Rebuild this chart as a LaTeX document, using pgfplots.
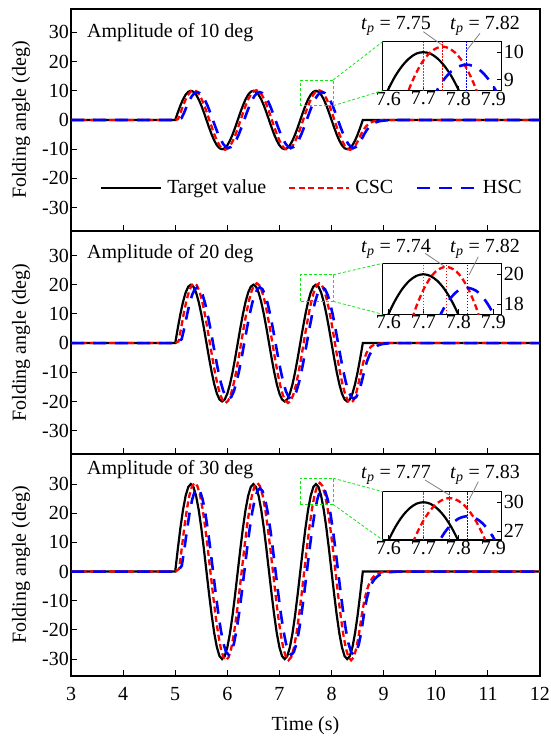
\documentclass[border=0pt]{standalone}
\usepackage{fontspec}
\setmainfont{Liberation Serif}
\usepackage{pgfplots}
\pgfplotsset{compat=1.18}
\definecolor{gbox}{RGB}{20,230,20}
\tikzset{
  tgt/.style={black, line width=2.2pt, solid},
  csc/.style={red, line width=2.3pt, dash pattern=on 6pt off 3.5pt},
  hsc/.style={blue, line width=2.6pt, dash pattern=on 13pt off 9pt},
}
\pgfplotsset{
  mainax/.style={
    scale only axis, width=469pt, anchor=south west,
    xmin=3, xmax=12, xtick={3,...,12},
    ytick={-30,-20,...,30},
    xtick pos=bottom, ytick pos=left, tick align=inside,
    major tick length=6pt, tick style={line width=0.9pt, black},
    axis line style={line width=1.1pt},
    ylabel={Folding angle (deg)},
    ylabel style={at={(axis description cs:-0.1066,0.5)}, anchor=center},
    /pgf/number format/assume math mode=true,
    yticklabel style={inner sep=2pt},
    xticklabel style={inner sep=2pt, yshift=-9pt},
  },
  insetax/.style={
    scale only axis, width=119pt, anchor=south west,
    xmin=7.584, xmax=7.924, xtick={7.6,7.7,7.8,7.9},
    xtick pos=bottom, ytick pos=right, yticklabel pos=right, tick align=inside,
    major tick length=5pt, tick style={line width=0.9pt, black},
    axis line style={line width=1.1pt},
    /pgf/number format/assume math mode=true,
    /pgf/number format/fixed,
    yticklabel style={inner sep=2pt},
    xticklabel style={inner sep=1pt},
  },
}
\begin{document}
\fontsize{20}{24}\selectfont
\begin{tikzpicture}
\useasboundingbox (0,0) rectangle (550pt,736pt);

% ---------------- Panel 1 ----------------
\begin{axis}[mainax, name=p1, at={(71pt,505pt)}, height=222pt, ymin=-38, ymax=38,
  xticklabels={},
  legend entries={Target value, CSC, HSC},
  legend image code/.code={\draw[#1] (0pt,0pt) -- (60pt,0pt);},
  legend style={draw=none, fill=none, at={(axis description cs:0.0618,0.1937)}, anchor=west,
    legend columns=3, inner sep=0pt, nodes={inner sep=0pt},
    /tikz/every odd column/.append style={column sep=5pt},
    /tikz/every even column/.append style={column sep=22pt}},
]
\addplot[tgt] coordinates {(3,0) (5,0) (5.05,2.59) (5.1,5) (5.15,7.07) (5.2,8.66) (5.25,9.66) (5.3,10) (5.35,9.66) (5.4,8.66) (5.45,7.07) (5.5,5) (5.55,2.59) (5.6,0) (5.65,-2.59) (5.7,-5) (5.75,-7.07) (5.8,-8.66) (5.85,-9.66) (5.9,-10) (5.95,-9.66) (6,-8.66) (6.05,-7.07) (6.1,-5) (6.15,-2.59) (6.2,0) (6.25,2.59) (6.3,5) (6.35,7.07) (6.4,8.66) (6.45,9.66) (6.5,10) (6.55,9.66) (6.6,8.66) (6.65,7.07) (6.7,5) (6.75,2.59) (6.8,0) (6.85,-2.59) (6.9,-5) (6.95,-7.07) (7,-8.66) (7.05,-9.66) (7.1,-10) (7.15,-9.66) (7.2,-8.66) (7.25,-7.07) (7.3,-5) (7.35,-2.59) (7.4,0) (7.45,2.59) (7.5,5) (7.55,7.07) (7.6,8.66) (7.65,9.66) (7.7,10) (7.75,9.66) (7.8,8.66) (7.85,7.07) (7.9,5) (7.95,2.59) (8,0) (8.05,-2.59) (8.1,-5) (8.15,-7.07) (8.2,-8.66) (8.25,-9.66) (8.3,-10) (8.35,-9.66) (8.4,-8.66) (8.45,-7.07) (8.5,-5) (8.55,-2.59) (8.6,0) (12,0)};
\addplot[csc] coordinates {(3,0) (5,0) (5.055,0.3) (5.105,2.64) (5.155,5.1) (5.205,7.21) (5.255,8.83) (5.305,9.85) (5.355,10.2) (5.405,9.85) (5.455,8.83) (5.505,7.21) (5.555,5.1) (5.605,2.64) (5.655,0) (5.705,-2.64) (5.755,-5.1) (5.805,-7.21) (5.855,-8.83) (5.905,-9.85) (5.955,-10.2) (6.005,-9.85) (6.055,-8.83) (6.105,-7.21) (6.155,-5.1) (6.205,-2.64) (6.255,0) (6.305,2.64) (6.355,5.1) (6.405,7.21) (6.455,8.83) (6.505,9.85) (6.555,10.2) (6.605,9.85) (6.655,8.83) (6.705,7.21) (6.755,5.1) (6.805,2.64) (6.855,0) (6.905,-2.64) (6.955,-5.1) (7.005,-7.21) (7.055,-8.83) (7.105,-9.85) (7.155,-10.2) (7.205,-9.85) (7.255,-8.83) (7.305,-7.21) (7.355,-5.1) (7.405,-2.64) (7.455,0) (7.505,2.64) (7.555,5.1) (7.605,7.21) (7.655,8.83) (7.705,9.85) (7.755,10.2) (7.805,9.85) (7.855,8.83) (7.905,7.21) (7.955,5.1) (8.005,2.64) (8.055,0) (8.105,-2.64) (8.155,-5.1) (8.205,-7.21) (8.255,-8.83) (8.305,-9.85) (8.355,-10.2) (8.405,-9.85) (8.455,-8.83) (8.505,-7.21) (8.555,-5.3) (8.605,-3.6) (8.655,-2.3) (8.705,-1.4) (8.755,-0.85) (8.805,-0.5) (8.855,-0.28) (8.905,-0.14) (9,-0.04) (9.1,0) (12,0)};
\addplot[hsc] coordinates {(3,0) (5,0) (5.06,0.15) (5.123,0.7) (5.173,2.6) (5.223,4.78) (5.273,6.75) (5.323,8.27) (5.373,9.22) (5.423,9.55) (5.473,9.22) (5.523,8.27) (5.573,6.75) (5.623,4.78) (5.673,2.47) (5.723,0) (5.773,-2.47) (5.823,-4.78) (5.873,-6.75) (5.923,-8.27) (5.973,-9.22) (6.023,-9.55) (6.073,-9.22) (6.123,-8.27) (6.173,-6.75) (6.223,-4.78) (6.273,-2.47) (6.323,0) (6.373,2.47) (6.423,4.78) (6.473,6.75) (6.523,8.27) (6.573,9.22) (6.623,9.55) (6.673,9.22) (6.723,8.27) (6.773,6.75) (6.823,4.78) (6.873,2.47) (6.923,0) (6.973,-2.47) (7.023,-4.78) (7.073,-6.75) (7.123,-8.27) (7.173,-9.22) (7.223,-9.55) (7.273,-9.22) (7.323,-8.27) (7.373,-6.75) (7.423,-4.78) (7.473,-2.47) (7.523,0) (7.573,2.47) (7.623,4.78) (7.673,6.75) (7.723,8.27) (7.773,9.22) (7.823,9.55) (7.873,9.22) (7.923,8.27) (7.973,6.75) (8.023,4.78) (8.073,2.47) (8.123,0) (8.173,-2.47) (8.223,-4.78) (8.273,-6.75) (8.323,-8.27) (8.373,-9.22) (8.423,-9.55) (8.473,-9.22) (8.523,-8.27) (8.573,-6.75) (8.623,-5) (8.673,-3.5) (8.723,-2.35) (8.773,-1.55) (8.823,-1) (8.873,-0.65) (8.923,-0.4) (9,-0.2) (9.1,-0.07) (9.2,0) (12,0)};
\draw[gbox, line width=0.8pt, dash pattern=on 3pt off 2pt] (axis cs:7.4,4.9) rectangle (axis cs:8.03,13.7);
\coordinate (b1ne) at (axis cs:8.03,13.7);
\coordinate (b1se) at (axis cs:8.03,4.9);
\end{axis}

% ---------------- Panel 2 ----------------
\begin{axis}[mainax, name=p2, at={(71pt,282pt)}, height=223pt, ymin=-38, ymax=38.4,
  xticklabels={}]
\addplot[tgt] coordinates {(3,0) (5,0) (5.05,5.18) (5.1,10) (5.15,14.14) (5.2,17.32) (5.25,19.32) (5.3,20) (5.35,19.32) (5.4,17.32) (5.45,14.14) (5.5,10) (5.55,5.18) (5.6,0) (5.65,-5.18) (5.7,-10) (5.75,-14.14) (5.8,-17.32) (5.85,-19.32) (5.9,-20) (5.95,-19.32) (6,-17.32) (6.05,-14.14) (6.1,-10) (6.15,-5.18) (6.2,0) (6.25,5.18) (6.3,10) (6.35,14.14) (6.4,17.32) (6.45,19.32) (6.5,20) (6.55,19.32) (6.6,17.32) (6.65,14.14) (6.7,10) (6.75,5.18) (6.8,0) (6.85,-5.18) (6.9,-10) (6.95,-14.14) (7,-17.32) (7.05,-19.32) (7.1,-20) (7.15,-19.32) (7.2,-17.32) (7.25,-14.14) (7.3,-10) (7.35,-5.18) (7.4,0) (7.45,5.18) (7.5,10) (7.55,14.14) (7.6,17.32) (7.65,19.32) (7.7,20) (7.75,19.32) (7.8,17.32) (7.85,14.14) (7.9,10) (7.95,5.18) (8,0) (8.05,-5.18) (8.1,-10) (8.15,-14.14) (8.2,-17.32) (8.25,-19.32) (8.3,-20) (8.35,-19.32) (8.4,-17.32) (8.45,-14.14) (8.5,-10) (8.55,-5.18) (8.6,0) (12,0)};
\addplot[csc] coordinates {(3,0) (5,0) (5.065,0.6) (5.115,5.31) (5.165,10.25) (5.215,14.5) (5.265,17.75) (5.315,19.8) (5.365,20.5) (5.415,19.8) (5.465,17.75) (5.515,14.5) (5.565,10.25) (5.615,5.31) (5.665,0) (5.715,-5.31) (5.765,-10.25) (5.815,-14.5) (5.865,-17.75) (5.915,-19.8) (5.965,-20.5) (6.015,-19.8) (6.065,-17.75) (6.115,-14.5) (6.165,-10.25) (6.215,-5.31) (6.265,0) (6.315,5.31) (6.365,10.25) (6.415,14.5) (6.465,17.75) (6.515,19.8) (6.565,20.5) (6.615,19.8) (6.665,17.75) (6.715,14.5) (6.765,10.25) (6.815,5.31) (6.865,0) (6.915,-5.31) (6.965,-10.25) (7.015,-14.5) (7.065,-17.75) (7.115,-19.8) (7.165,-20.5) (7.215,-19.8) (7.265,-17.75) (7.315,-14.5) (7.365,-10.25) (7.415,-5.31) (7.465,0) (7.515,5.31) (7.565,10.25) (7.615,14.5) (7.665,17.75) (7.715,19.8) (7.765,20.5) (7.815,19.8) (7.865,17.75) (7.915,14.5) (7.965,10.25) (8.015,5.31) (8.065,0) (8.115,-5.31) (8.165,-10.25) (8.215,-14.5) (8.265,-17.75) (8.315,-19.8) (8.365,-20.5) (8.415,-19.8) (8.465,-17.75) (8.515,-14) (8.565,-9.8) (8.615,-6.2) (8.665,-3.6) (8.715,-2) (8.765,-1.1) (8.815,-0.6) (8.865,-0.3) (8.95,-0.1) (9.05,0) (12,0)};
\addplot[hsc] coordinates {(3,0) (5,0) (5.06,0.3) (5.125,1.4) (5.175,5.2) (5.225,9.55) (5.275,13.51) (5.325,16.54) (5.375,18.45) (5.425,19.1) (5.475,18.45) (5.525,16.54) (5.575,13.51) (5.625,9.55) (5.675,4.94) (5.725,0) (5.775,-4.94) (5.825,-9.55) (5.875,-13.51) (5.925,-16.54) (5.975,-18.45) (6.025,-19.1) (6.075,-18.45) (6.125,-16.54) (6.175,-13.51) (6.225,-9.55) (6.275,-4.94) (6.325,0) (6.375,4.94) (6.425,9.55) (6.475,13.51) (6.525,16.54) (6.575,18.45) (6.625,19.1) (6.675,18.45) (6.725,16.54) (6.775,13.51) (6.825,9.55) (6.875,4.94) (6.925,0) (6.975,-4.94) (7.025,-9.55) (7.075,-13.51) (7.125,-16.54) (7.175,-18.45) (7.225,-19.1) (7.275,-18.45) (7.325,-16.54) (7.375,-13.51) (7.425,-9.55) (7.475,-4.94) (7.525,0) (7.575,4.94) (7.625,9.55) (7.675,13.51) (7.725,16.54) (7.775,18.45) (7.825,19.1) (7.875,18.45) (7.925,16.54) (7.975,13.51) (8.025,9.55) (8.075,4.94) (8.125,0) (8.175,-4.94) (8.225,-9.55) (8.275,-13.51) (8.325,-16.54) (8.375,-18.45) (8.425,-19.1) (8.475,-18.45) (8.525,-16.54) (8.575,-13.51) (8.625,-9.8) (8.675,-6.5) (8.725,-4.2) (8.775,-2.6) (8.825,-1.6) (8.875,-0.95) (8.925,-0.55) (9,-0.25) (9.1,-0.08) (9.2,0) (12,0)};
\draw[gbox, line width=0.8pt, dash pattern=on 3pt off 2pt] (axis cs:7.4,14.3) rectangle (axis cs:8.03,23.4);
\coordinate (b2ne) at (axis cs:8.03,23.4);
\coordinate (b2se) at (axis cs:8.03,14.3);
\end{axis}

% ---------------- Panel 3 ----------------
\begin{axis}[mainax, name=p3, at={(71pt,60pt)}, height=222pt, ymin=-35.8, ymax=40.3,
  xlabel={Time (s)},
  xlabel style={at={(axis description cs:0.5,-0.224)}, anchor=center}]
\addplot[tgt] coordinates {(3,0) (5,0) (5.05,7.76) (5.1,15) (5.15,21.21) (5.2,25.98) (5.25,28.98) (5.3,30) (5.35,28.98) (5.4,25.98) (5.45,21.21) (5.5,15) (5.55,7.76) (5.6,0) (5.65,-7.76) (5.7,-15) (5.75,-21.21) (5.8,-25.98) (5.85,-28.98) (5.9,-30) (5.95,-28.98) (6,-25.98) (6.05,-21.21) (6.1,-15) (6.15,-7.76) (6.2,0) (6.25,7.76) (6.3,15) (6.35,21.21) (6.4,25.98) (6.45,28.98) (6.5,30) (6.55,28.98) (6.6,25.98) (6.65,21.21) (6.7,15) (6.75,7.76) (6.8,0) (6.85,-7.76) (6.9,-15) (6.95,-21.21) (7,-25.98) (7.05,-28.98) (7.1,-30) (7.15,-28.98) (7.2,-25.98) (7.25,-21.21) (7.3,-15) (7.35,-7.76) (7.4,0) (7.45,7.76) (7.5,15) (7.55,21.21) (7.6,25.98) (7.65,28.98) (7.7,30) (7.75,28.98) (7.8,25.98) (7.85,21.21) (7.9,15) (7.95,7.76) (8,0) (8.05,-7.76) (8.1,-15) (8.15,-21.21) (8.2,-25.98) (8.25,-28.98) (8.3,-30) (8.35,-28.98) (8.4,-25.98) (8.45,-21.21) (8.5,-15) (8.55,-7.76) (8.6,0) (12,0)};
\addplot[csc] coordinates {(3,0) (5,0) (5.075,0.9) (5.125,7.87) (5.175,15.2) (5.225,21.5) (5.275,26.33) (5.325,29.36) (5.375,30.4) (5.425,29.36) (5.475,26.33) (5.525,21.5) (5.575,15.2) (5.625,7.87) (5.675,0) (5.725,-7.87) (5.775,-15.2) (5.825,-21.5) (5.875,-26.33) (5.925,-29.36) (5.975,-30.4) (6.025,-29.36) (6.075,-26.33) (6.125,-21.5) (6.175,-15.2) (6.225,-7.87) (6.275,0) (6.325,7.87) (6.375,15.2) (6.425,21.5) (6.475,26.33) (6.525,29.36) (6.575,30.4) (6.625,29.36) (6.675,26.33) (6.725,21.5) (6.775,15.2) (6.825,7.87) (6.875,0) (6.925,-7.87) (6.975,-15.2) (7.025,-21.5) (7.075,-26.33) (7.125,-29.36) (7.175,-30.4) (7.225,-29.36) (7.275,-26.33) (7.325,-21.5) (7.375,-15.2) (7.425,-7.87) (7.475,0) (7.525,7.87) (7.575,15.2) (7.625,21.5) (7.675,26.33) (7.725,29.36) (7.775,30.4) (7.825,29.36) (7.875,26.33) (7.925,21.5) (7.975,15.2) (8.025,7.87) (8.075,0) (8.125,-7.87) (8.175,-15.2) (8.225,-21.5) (8.275,-26.33) (8.325,-29.36) (8.375,-30.4) (8.425,-29.36) (8.475,-26.33) (8.525,-21.5) (8.575,-15.5) (8.625,-10.3) (8.675,-6.5) (8.725,-4) (8.775,-2.4) (8.825,-1.4) (8.875,-0.8) (8.925,-0.4) (9,-0.15) (9.1,0) (12,0)};
\addplot[hsc] coordinates {(3,0) (5,0) (5.06,0.4) (5.126,2) (5.176,7.7) (5.226,14.28) (5.276,20.19) (5.326,24.72) (5.376,27.58) (5.426,28.55) (5.476,27.58) (5.526,24.72) (5.576,20.19) (5.626,14.28) (5.676,7.39) (5.726,0) (5.776,-7.39) (5.826,-14.28) (5.876,-20.19) (5.926,-24.72) (5.976,-27.58) (6.026,-28.55) (6.076,-27.58) (6.126,-24.72) (6.176,-20.19) (6.226,-14.28) (6.276,-7.39) (6.326,0) (6.376,7.39) (6.426,14.28) (6.476,20.19) (6.526,24.72) (6.576,27.58) (6.626,28.55) (6.676,27.58) (6.726,24.72) (6.776,20.19) (6.826,14.28) (6.876,7.39) (6.926,0) (6.976,-7.39) (7.026,-14.28) (7.076,-20.19) (7.126,-24.72) (7.176,-27.58) (7.226,-28.55) (7.276,-27.58) (7.326,-24.72) (7.376,-20.19) (7.426,-14.28) (7.476,-7.39) (7.526,0) (7.576,7.39) (7.626,14.28) (7.676,20.19) (7.726,24.72) (7.776,27.58) (7.826,28.55) (7.876,27.58) (7.926,24.72) (7.976,20.19) (8.026,14.28) (8.076,7.39) (8.126,0) (8.176,-7.39) (8.226,-14.28) (8.276,-20.19) (8.326,-24.72) (8.376,-27.58) (8.426,-28.55) (8.476,-27.58) (8.526,-24.72) (8.576,-20.19) (8.626,-14) (8.676,-9.3) (8.726,-6) (8.776,-3.9) (8.826,-2.6) (8.876,-1.7) (8.926,-1.1) (9,-0.6) (9.1,-0.25) (9.2,-0.08) (9.3,0) (12,0)};
\draw[gbox, line width=0.8pt, dash pattern=on 3pt off 2pt] (axis cs:7.4,23) rectangle (axis cs:8.03,32);
\coordinate (b3ne) at (axis cs:8.03,32);
\coordinate (b3se) at (axis cs:8.03,23);
\end{axis}

% ---------------- Inset 1 ----------------
\begin{axis}[insetax, name=i1, at={(382.7pt,645.3pt)}, height=49pt, ymin=8.61, ymax=10.38, ytick={9,10}]
\draw[black!60, line width=0.8pt, dash pattern=on 1.5pt off 1.5pt] (axis cs:7.7,8.61) -- (axis cs:7.7,10.38);
\draw[red, line width=0.8pt, dash pattern=on 1.5pt off 1.5pt] (axis cs:7.755,8.61) -- (axis cs:7.755,10.38);
\draw[blue, line width=0.8pt, dash pattern=on 1.5pt off 1.5pt] (axis cs:7.823,8.61) -- (axis cs:7.823,10.38);
\addplot[tgt, smooth] coordinates {(7.58,8.09) (7.6,8.66) (7.62,9.14) (7.64,9.51) (7.66,9.78) (7.68,9.95) (7.7,10) (7.72,9.95) (7.74,9.78) (7.76,9.51) (7.78,9.14) (7.8,8.66) (7.82,8.09)};
\addplot[csc, smooth] coordinates {(7.64,7.99) (7.66,8.69) (7.68,9.26) (7.70,9.70) (7.72,9.995) (7.74,10.16) (7.755,10.2) (7.77,10.16) (7.79,9.995) (7.81,9.70) (7.83,9.26) (7.85,8.69) (7.87,7.99)};
\addplot[hsc, smooth] coordinates {(7.70,7.55) (7.72,8.15) (7.74,8.64) (7.76,9.03) (7.78,9.31) (7.80,9.48) (7.823,9.55) (7.84,9.51) (7.86,9.37) (7.88,9.12) (7.90,8.77) (7.92,8.31) (7.94,7.74)};
\end{axis}

% ---------------- Inset 2 ----------------
\begin{axis}[insetax, name=i2, at={(382.7pt,421.7pt)}, height=51pt, ymin=17.33, ymax=20.73, ytick={18,20}]
\draw[black!60, line width=0.8pt, dash pattern=on 1.5pt off 1.5pt] (axis cs:7.7,17.33) -- (axis cs:7.7,20.73);
\draw[red, line width=0.8pt, dash pattern=on 1.5pt off 1.5pt] (axis cs:7.765,17.33) -- (axis cs:7.765,20.73);
\draw[blue, line width=0.8pt, dash pattern=on 1.5pt off 1.5pt] (axis cs:7.825,17.33) -- (axis cs:7.825,20.73);
\addplot[tgt, smooth] coordinates {(7.58,16.18) (7.6,17.32) (7.62,18.27) (7.64,19.02) (7.66,19.56) (7.68,19.89) (7.7,20) (7.72,19.89) (7.74,19.56) (7.76,19.02) (7.78,18.27) (7.8,17.32) (7.82,16.18)};
\addplot[csc, smooth] coordinates {(7.66,16.45) (7.68,17.85) (7.70,18.95) (7.72,19.76) (7.74,20.27) (7.765,20.5) (7.79,20.27) (7.81,19.76) (7.83,18.95) (7.85,17.85) (7.87,16.45)};
\addplot[hsc, smooth] coordinates {(7.70,14.26) (7.72,15.68) (7.74,16.86) (7.76,17.79) (7.78,18.47) (7.80,18.91) (7.825,19.1) (7.85,18.91) (7.87,18.47) (7.89,17.79) (7.91,16.86) (7.93,15.68)};
\end{axis}

% ---------------- Inset 3 ----------------
\begin{axis}[insetax, name=i3, at={(382.7pt,196pt)}, height=48.3pt, ymin=26.06, ymax=31.1, ytick={27,30}]
\draw[black!60, line width=0.8pt, dash pattern=on 1.5pt off 1.5pt] (axis cs:7.7,26.06) -- (axis cs:7.7,31.1);
\draw[red, line width=0.8pt, dash pattern=on 1.5pt off 1.5pt] (axis cs:7.775,26.06) -- (axis cs:7.775,31.1);
\draw[blue, line width=0.8pt, dash pattern=on 1.5pt off 1.5pt] (axis cs:7.826,26.06) -- (axis cs:7.826,31.1);
\addplot[tgt, smooth] coordinates {(7.58,24.27) (7.6,25.98) (7.62,27.41) (7.64,28.53) (7.66,29.34) (7.68,29.84) (7.7,30) (7.72,29.84) (7.74,29.34) (7.76,28.53) (7.78,27.41) (7.8,25.98) (7.82,24.27)};
\addplot[csc, smooth] coordinates {(7.66,24.87) (7.68,26.63) (7.70,28.06) (7.72,29.15) (7.74,29.91) (7.76,30.33) (7.775,30.42) (7.79,30.33) (7.81,29.91) (7.83,29.15) (7.85,28.06) (7.87,26.63) (7.89,24.87)};
\addplot[hsc, smooth] coordinates {(7.70,22.12) (7.72,24.0) (7.74,25.55) (7.76,26.79) (7.78,27.69) (7.80,28.28) (7.826,28.55) (7.85,28.32) (7.87,27.77) (7.89,26.89) (7.91,25.69) (7.93,24.17)};
\end{axis}

% connectors
\foreach \k in {1,2,3} {
  \draw[gbox, line width=0.8pt, dash pattern=on 3pt off 2pt] (b\k ne) -- (i\k.north west);
  \draw[gbox, line width=0.8pt, dash pattern=on 3pt off 2pt] (b\k se) -- (i\k.south west);
}

% panel titles
\node[anchor=base west, inner sep=0pt] at (87pt,698.7pt) {Amplitude of 10 deg};
\node[anchor=base west, inner sep=0pt] at (87pt,477.5pt) {Amplitude of 20 deg};
\node[anchor=base west, inner sep=0pt] at (87pt,261pt) {Amplitude of 30 deg};

% peak time annotations
\node[anchor=base east, inner sep=0pt] at (431pt,706.7pt) {\textit{t}\textsubscript{\textit{p}} = 7.75};
\node[anchor=base east, inner sep=0pt] at (520pt,706.7pt) {\textit{t}\textsubscript{\textit{p}} = 7.82};
\node[anchor=base east, inner sep=0pt] at (431pt,483.7pt) {\textit{t}\textsubscript{\textit{p}} = 7.74};
\node[anchor=base east, inner sep=0pt] at (520pt,483.7pt) {\textit{t}\textsubscript{\textit{p}} = 7.82};
\node[anchor=base east, inner sep=0pt] at (431pt,257.7pt) {\textit{t}\textsubscript{\textit{p}} = 7.77};
\node[anchor=base east, inner sep=0pt] at (520pt,257.7pt) {\textit{t}\textsubscript{\textit{p}} = 7.83};

\draw[gray, line width=0.8pt] (423.3pt,704.3pt) -- (442pt,691pt);
\draw[gray, line width=0.8pt] (480pt,702.7pt) -- (467pt,686pt);
\draw[gray, line width=0.8pt] (425pt,482.7pt) -- (445pt,469.3pt);
\draw[gray, line width=0.8pt] (478.3pt,479.3pt) -- (469pt,461pt);
\draw[gray, line width=0.8pt] (425pt,256pt) -- (449.3pt,241pt);
\draw[gray, line width=0.8pt] (478.3pt,254.3pt) -- (469pt,236pt);
\end{tikzpicture}
\end{document}
